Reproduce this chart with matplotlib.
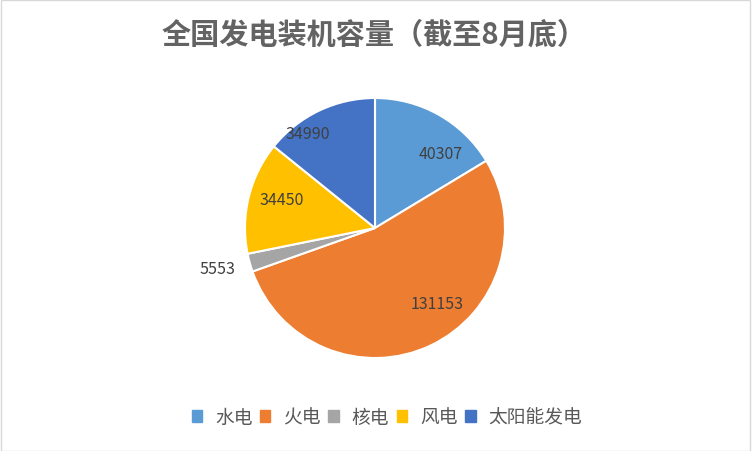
import matplotlib.pyplot as plt
import numpy as np
from matplotlib.patches import Rectangle

plt.rcParams['font.family'] = ['Noto Sans CJK SC', 'DejaVu Sans']

categories = ["水电", "火电", "核电", "风电", "太阳能发电"]
capacity = [40307, 131153, 5553, 34450, 34990]
colors = ["#5B9BD5", "#ED7D31", "#A5A5A5", "#FFC000", "#4472C4"]

# label placement tweaks (angle offset in degrees, radius fraction), like Excel best fit
label_shift = [-12, 14, -1, -3.5, 10]
label_dist = [0.76, 0.75, 1.25, 0.75, 0.89]

fig = plt.figure(figsize=(7.52, 4.52), dpi=100)
fig.patches.append(Rectangle((0.001, 0.001), 0.997, 0.997, transform=fig.transFigure,
                             fill=False, edgecolor="#D9D9D9", linewidth=1))

ax = fig.add_axes([(375 - 130) / 752, (452 - 229 - 130) / 452, 260 / 752, 260 / 452])
wedges, _ = ax.pie(capacity, colors=colors, startangle=90, counterclock=False,
                   wedgeprops=dict(edgecolor="white", linewidth=1.5))
ax.set_xlim(-1, 1)
ax.set_ylim(-1, 1)
ax.set_aspect("auto")
ax.axis("off")

for w, val, dth, dist in zip(wedges, capacity, label_shift, label_dist):
    ang = np.deg2rad((w.theta1 + w.theta2) / 2 + dth)
    ax.text(dist * np.cos(ang), dist * np.sin(ang), str(val), ha="center", va="center",
            fontsize=11.5, color="#404040")

fig.text(374 / 752, 1 - 35 / 452, "全国发电装机容量（截至8月底）", ha="center", va="center",
         fontsize=21, color="#636363", fontweight="bold")

handles = [plt.Rectangle((0, 0), 1, 1, color=c) for c in colors]
fig.legend(handles, categories, loc="center", bbox_to_anchor=(387 / 752, 1 - 418 / 452),
           ncol=5, frameon=False, fontsize=13.5, labelcolor="#595959",
           handlelength=0.55, handleheight=0.55, handletextpad=0.7, columnspacing=0.4)

fig.savefig("out.png", dpi=100)
